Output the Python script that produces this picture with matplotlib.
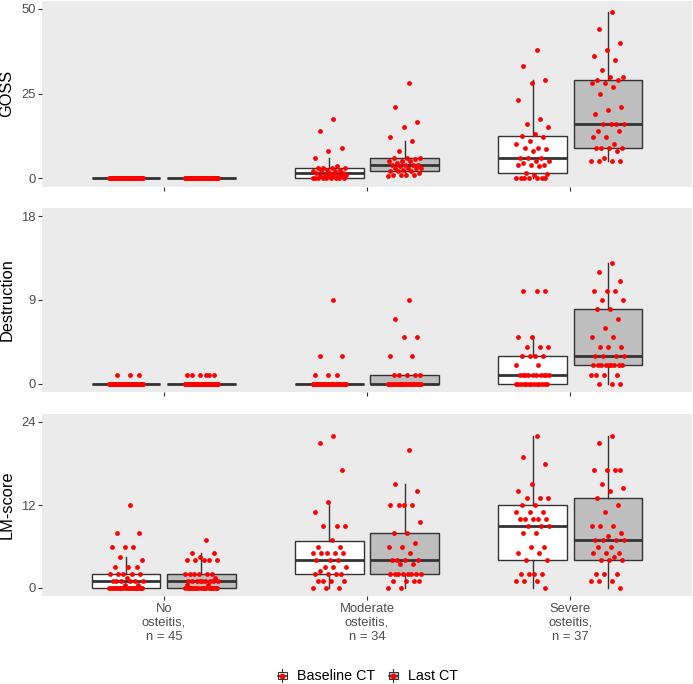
import matplotlib
matplotlib.use("Agg")
import matplotlib.pyplot as plt
from matplotlib.legend_handler import HandlerBase
from matplotlib.patches import Rectangle, Patch
from matplotlib.lines import Line2D

plt.rcParams['font.family'] = ['Liberation Sans', 'DejaVu Sans']

# categories and groups
categories = ["No\nosteitis,\nn = 45", "Moderate\nosteitis,\nn = 34", "Severe\nosteitis,\nn = 37"]
groups = ["Baseline CT", "Last CT"]

# GOSS values
goss_no_base = [0] * 45
goss_no_last = [0] * 45
goss_mod_base = [17.5, 14, 9, 8, 6, 3.5, 3, 3, 3, 3, 2.5, 2.5, 2, 2, 2, 1.5, 1.5, 1.5,
                 1, 1, 1, 1, 0.5, 0.5, 0.5] + [0] * 9
goss_mod_last = [28, 21, 16.5, 15, 12, 11, 8, 6, 6, 6, 5.5, 5, 5, 5, 4.5, 4, 4, 4, 4, 3.5,
                 3, 3, 3, 3, 2.5, 2, 2, 2, 1.5, 1, 1, 1, 1, 0.5]
goss_sev_base = [38, 33, 29, 28, 23, 17.5, 16, 15, 13, 12.5, 12, 11, 10, 9, 9, 8.5, 8, 6, 6, 6,
                 5, 5, 4.5, 4, 4, 4, 3.5, 1.4, 1.2, 1] + [0] * 7
goss_sev_last = [49, 44, 40, 38, 36, 35, 32, 30, 30, 29, 29, 28, 28, 27, 25, 21, 20, 19,
                 16, 16, 16, 16, 14, 14, 12, 12, 10, 9, 9, 9, 9, 8, 6, 5, 5, 5, 5]

# Destruction
destr_no_base = [1, 1, 1] + [0] * 42
destr_no_last = [1, 1, 1, 1, 1, 1] + [0] * 39
destr_mod_base = [9, 3, 3, 1, 1, 1] + [0] * 28
destr_mod_last = [9, 7, 5, 5, 3, 3, 1, 1, 1, 1, 1] + [0] * 23
destr_sev_base = [10, 10, 10, 5, 5, 4, 4, 4, 3, 3, 3, 3, 2, 2] + [1] * 10 + [0] * 13
destr_sev_last = [13, 12, 11, 10, 10, 10, 9, 9, 8, 8, 7, 6, 5, 5, 4, 4, 4, 3, 3, 3, 3] \
    + [2] * 9 + [1, 1, 1, 1] + [0, 0, 0]

# LM-score
lm_no_base = [12, 8, 8, 6, 6, 6, 4.5, 4, 3, 3, 3, 2, 2, 2, 2, 2, 1.5, 1, 1, 1, 1, 1, 1,
              0.5, 0.5] + [0] * 20
lm_no_last = [7, 5, 5, 4.5, 4, 4, 4, 4, 4, 2, 2, 2, 2, 2, 2, 1.5] + [1] * 9 + [0.5, 0.5] + [0] * 18
lm_mod_base = [22, 21, 17, 12.4, 11, 9, 9, 9, 7, 6, 6, 5, 5, 5, 5, 5, 4, 4, 4, 3, 3, 3, 2.4,
               2, 2, 2, 2, 1, 1, 1, 1, 0, 0, 0]
lm_mod_last = [20, 15, 14, 12, 12, 12, 12, 9.5, 8, 8, 6.5, 6, 6, 5, 4, 4, 4, 4, 3.5, 3.5,
               2, 2, 2, 2, 2, 2, 2, 2, 1, 1, 1, 1, 0, 0]
lm_sev_base = [22, 19, 18, 15, 14, 13, 13, 13, 12, 12, 11, 11, 11, 10, 10, 10, 10, 10, 9, 9, 9,
               8, 8, 6, 6, 5, 5, 4, 4, 2, 2, 2, 2, 1, 1, 1, 0]
lm_sev_last = [22, 21, 17, 17, 17, 17, 15, 14.5, 14, 13, 12, 11, 9, 9, 9, 8, 7.5, 7, 7, 7, 7,
               6, 6, 5, 5, 5, 4.5, 4, 4, 4, 2, 2, 2, 1, 1, 1, 0]

panels = [
    ("GOSS", [goss_no_base, goss_mod_base, goss_sev_base],
     [goss_no_last, goss_mod_last, goss_sev_last], [0, 25, 50]),
    ("Destruction", [destr_no_base, destr_mod_base, destr_sev_base],
     [destr_no_last, destr_mod_last, destr_sev_last], [0, 9, 18]),
    ("LM-score", [lm_no_base, lm_mod_base, lm_sev_base],
     [lm_no_last, lm_mod_last, lm_sev_last], [0, 12, 24]),
]

W, H = 693, 684
left, right = 42, 692
rows = [(0.5, 186.5), (207.6, 392.4), (413.7, 596.3)]
fills = ["white", "#BEBEBE"]
edge = "#333333"
dodge = 0.185
box_w = 0.336
jit = 0.085
golden = 0.6180339887

fig = plt.figure(figsize=(W / 100, H / 100), dpi=100)

for k, (name, base, last, yt) in enumerate(panels):
    top, bot = rows[k]
    ax = fig.add_axes([left / W, 1 - bot / H, (right - left) / W, (bot - top) / H])
    ax.set_facecolor("#EBEBEB")
    for s in ax.spines.values():
        s.set_visible(False)

    for g, series in enumerate([base, last]):
        pos = [c + 1 + (g * 2 - 1) * dodge for c in range(len(categories))]
        ax.boxplot(series, positions=pos, widths=box_w, whis=1.5, showfliers=False,
                   showcaps=False, patch_artist=True, manage_ticks=False,
                   boxprops=dict(facecolor=fills[g], edgecolor=edge, linewidth=1.0),
                   medianprops=dict(color=edge, linewidth=2.0),
                   whiskerprops=dict(color=edge, linewidth=1.0))
        # spread points sideways like a jitter, but deterministic
        for p, vals in zip(pos, series):
            xs = [p + (((i + 1) * golden) % 1 - 0.5) * 2 * jit for i in range(len(vals))]
            ax.scatter(xs, vals, s=12, c="red", linewidths=0, zorder=3)

    ax.set_xlim(0.4, 3.6)
    ymax = yt[-1]
    ax.set_ylim(-0.05 * ymax, 1.05 * ymax)
    ax.set_yticks(yt)
    ax.set_xticks([1, 2, 3])
    if k == len(panels) - 1:
        ax.set_xticklabels(categories)
    else:
        ax.set_xticklabels([])
    ax.tick_params(axis="both", length=2.9, width=0.8, color=edge,
                   labelsize=9.4, labelcolor="#4D4D4D", pad=1.5)
    ax.tick_params(axis="x", pad=2.0)
    fig.text(7 / W, 1 - (top + bot) / 2 / H, name, rotation=90, ha="center",
             va="center", fontsize=11.8, color="black")


class BoxKey(HandlerBase):
    def __init__(self, fc):
        super().__init__()
        self.fc = fc

    def create_artists(self, legend, orig, xd, yd, width, height, fontsize, trans):
        cx = -xd + width / 2
        y0 = -yd
        bw = width * 0.7
        arts = [
            Line2D([cx, cx], [y0, y0 + height], color=edge, lw=0.8, transform=trans),
            Rectangle((cx - bw / 2, y0 + 0.25 * height), bw, 0.5 * height,
                      facecolor=self.fc, edgecolor=edge, lw=0.8, transform=trans),
            Line2D([cx - bw / 2, cx + bw / 2], [y0 + height / 2] * 2, color=edge, lw=1.2,
                   transform=trans),
            Line2D([cx], [y0 + height / 2], marker="o", ms=3.2, color="red", ls="",
                   transform=trans),
        ]
        return arts


h1 = Patch(facecolor=fills[0])
h2 = Patch(facecolor=fills[1])
fig.legend(handles=[h1, h2], labels=groups,
           handler_map={h1: BoxKey(fills[0]), h2: BoxKey(fills[1])},
           loc="center", bbox_to_anchor=(367 / W, 1 - 676 / H), ncol=2, frameon=False,
           fontsize=10.3, handlelength=0.9, handleheight=1.1, handletextpad=0.6,
           columnspacing=0.8, borderpad=0)

fig.savefig("out.png", dpi=100)
plt.close(fig)
